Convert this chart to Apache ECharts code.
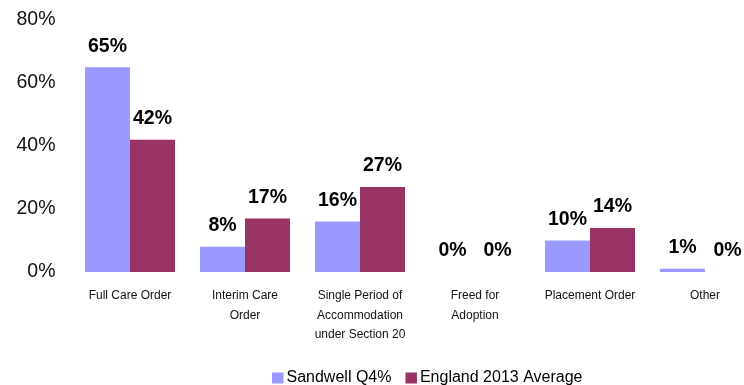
<!DOCTYPE html>
<html>
<head>
<meta charset="utf-8">
<script src="https://cdn.jsdelivr.net/npm/echarts@6/dist/echarts.min.js"></script>
<style>
  html, body { margin: 0; padding: 0; background: #fff; }
  #chart { width: 744px; height: 385px; }
</style>
</head>
<body>
<div id="chart"></div>
<script>
// Order types and the share of each, in percent
const categories = [
  'Full Care Order',
  'Interim Care\nOrder',
  'Single Period of\nAccommodation\nunder Section 20',
  'Freed for\nAdoption',
  'Placement Order',
  'Other'
];
const sandwellQ4 = [65, 8, 16, 0, 10, 1];
const england2013 = [42, 17, 27, 0, 14, 0];
const yTicks = [0, 20, 40, 60, 80];

const chart = echarts.init(document.getElementById('chart'), null, { renderer: 'canvas' });

const valueLabel = {
  show: true,
  position: 'top',
  distance: 11,
  formatter: p => p.value + '%',
  color: '#000',
  fontWeight: 'bold',
  fontSize: 19.5,
  fontFamily: 'Liberation Sans, Arial, sans-serif'
};

chart.setOption({
  animation: false,
  // the plot runs a little past the right edge of the canvas
  grid: { left: 72.5, width: 690, top: 20, bottom: 113, containLabel: false, outerBoundsMode: 'none' },
  legend: {
    bottom: -6,
    left: 267,
    itemWidth: 11.5,
    itemHeight: 11,
    itemGap: 14,
    icon: 'rect',
    textStyle: { fontSize: 16, color: '#000', fontFamily: 'Liberation Sans, Arial, sans-serif', padding: [0, 0, 0, -2] },
    data: ['Sandwell Q4%', 'England 2013 Average']
  },
  xAxis: {
    type: 'category',
    data: categories,
    axisLine: { show: false },
    axisTick: { show: false },
    axisLabel: {
      interval: 0,
      margin: 14,
      fontSize: 12,
      lineHeight: 19.5,
      color: '#111',
      fontFamily: 'Liberation Sans, Arial, sans-serif'
    }
  },
  yAxis: {
    type: 'value',
    min: yTicks[0],
    max: yTicks[yTicks.length - 1],
    interval: 20,
    splitLine: { show: false },
    axisLine: { show: false },
    axisTick: { show: false },
    axisLabel: {
      formatter: v => v + '%',
      fontSize: 19.5,
      margin: 17,
      color: '#111',
      fontFamily: 'Liberation Sans, Arial, sans-serif'
    }
  },
  series: [
    {
      name: 'Sandwell Q4%',
      type: 'bar',
      data: sandwellQ4,
      barGap: '0%',
      barCategoryGap: '21.7%',
      itemStyle: { color: '#9999FF' },
      label: valueLabel
    },
    {
      name: 'England 2013 Average',
      type: 'bar',
      data: england2013,
      itemStyle: { color: '#993366' },
      label: valueLabel
    }
  ]
});
</script>
</body>
</html>
